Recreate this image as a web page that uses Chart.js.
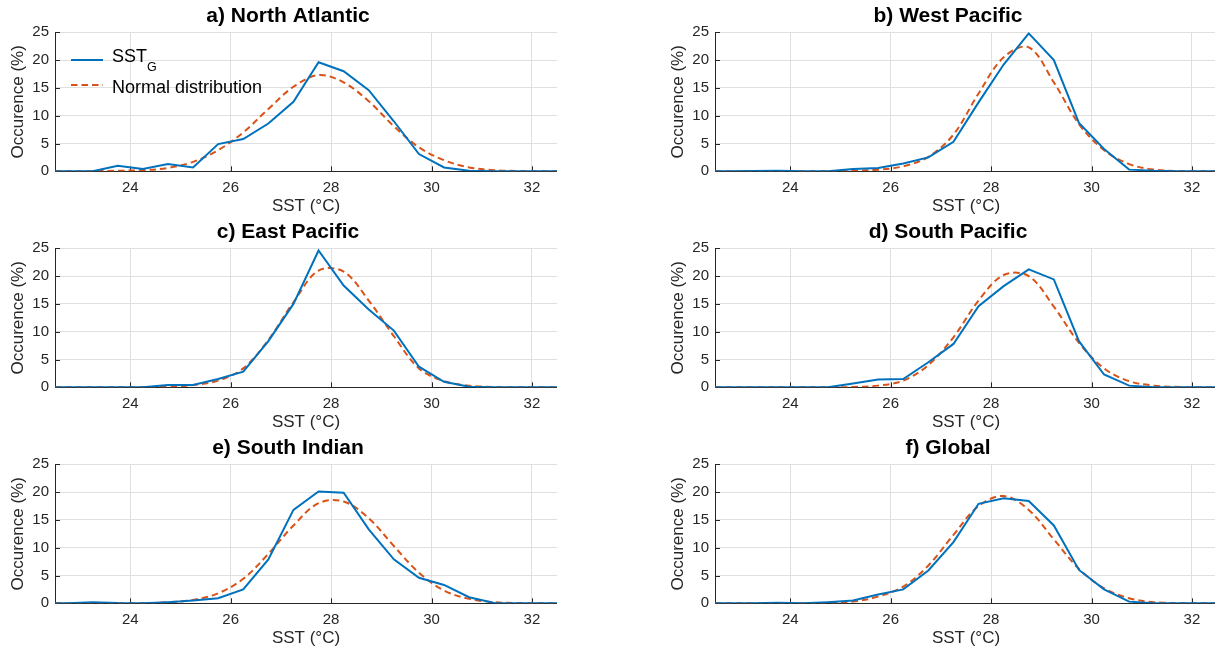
<!DOCTYPE html>
<html>
<head>
<meta charset="utf-8">
<script src="https://cdn.jsdelivr.net/npm/chart.js@4/dist/chart.umd.min.js"></script>
<style>
  body { margin: 0; width: 1215px; height: 651px; overflow: hidden; background: #fff; position: relative;
         font-family: "Liberation Sans", Arial, sans-serif; }
  .panel { position: absolute; width: 557px; height: 216px; }
  .leg { position: absolute; color: #000; font-size: 18px; line-height: 18px; white-space: nowrap; }
  .leg sub { font-size: 12.5px; vertical-align: -9px; line-height: 0; }
  svg.legline { position: absolute; }
</style>
</head>
<body>
<div class="panel" style="left:0;top:0"><canvas id="c0" width="557" height="216"></canvas></div>
<div class="panel" style="left:660px;top:0"><canvas id="c1" width="557" height="216"></canvas></div>
<div class="panel" style="left:0;top:216px"><canvas id="c2" width="557" height="216"></canvas></div>
<div class="panel" style="left:660px;top:216px"><canvas id="c3" width="557" height="216"></canvas></div>
<div class="panel" style="left:0;top:432px"><canvas id="c4" width="557" height="216"></canvas></div>
<div class="panel" style="left:660px;top:432px"><canvas id="c5" width="557" height="216"></canvas></div>

<!-- legend of panel a -->
<svg class="legline" style="left:71px;top:56px" width="34" height="8"><line x1="0" y1="4" x2="32" y2="4" stroke="#0072BD" stroke-width="2"/></svg>
<div class="leg" style="left:112px;top:46.7px">SST<sub>G</sub></div>
<svg class="legline" style="left:71px;top:81px" width="34" height="8"><line x1="0" y1="4" x2="32" y2="4" stroke="#D95319" stroke-width="2" stroke-dasharray="6.5 4"/></svg>
<div class="leg" style="left:112px;top:77.5px">Normal distribution</div>

<script>
// bin centres (deg C), with the axis edges where the curves sit at 0
var sstBins = [22.5, 22.75, 23.25, 23.75, 24.25, 24.75, 25.25, 25.75, 26.25, 26.75, 27.25,
               27.75, 28.25, 28.75, 29.25, 29.75, 30.25, 30.75, 31.25, 31.75, 32.25, 32.5];
var xTicks = [24, 26, 28, 30, 32];
var yTicks = [0, 5, 10, 15, 20, 25];

var titles = ['a) North Atlantic', 'b) West Pacific', 'c) East Pacific',
              'd) South Pacific', 'e) South Indian', 'f) Global'];

// occurrence (%) of SST_G and the fitted normal distribution, per basin
var naSST    = [0, 0, 0, 1.0, 0.4, 1.3, 0.7, 4.9, 5.8, 8.6, 12.5, 19.6, 18.0, 14.6, 9.0, 3.1, 0.7, 0.1, 0, 0, 0, 0];
var naNormal = [0, 0, 0, 0.1, 0.2, 0.6, 1.7, 3.8, 7.0, 11.2, 15.2, 17.3, 16.0, 12.6, 8.1, 4.3, 2.0, 0.7, 0.2, 0.05, 0, 0];

var wpSST    = [0, 0, 0.05, 0.1, 0, 0, 0.4, 0.6, 1.4, 2.5, 5.3, 12.4, 19.2, 24.8, 20.0, 8.7, 4.0, 0.3, 0.1, 0, 0, 0];
var wpNormal = [0, 0, 0, 0, 0, 0, 0.1, 0.3, 0.9, 2.6, 6.6, 14.0, 20.5, 22.3, 16.0, 8.5, 3.8, 1.3, 0.3, 0.05, 0, 0];

var epSST    = [0, 0, 0, 0, 0, 0.4, 0.4, 1.5, 2.8, 8.3, 15.0, 24.6, 18.3, 14.0, 10.2, 3.7, 1.0, 0.1, 0, 0, 0, 0];
var epNormal = [0, 0, 0, 0, 0, 0.1, 0.4, 1.2, 3.4, 8.5, 15.3, 21.0, 20.8, 15.6, 9.2, 3.4, 1.1, 0.3, 0.05, 0, 0, 0];

var spSST    = [0, 0, 0, 0, 0, 0, 0.7, 1.4, 1.5, 4.5, 7.8, 14.6, 18.2, 21.2, 19.4, 8.3, 2.3, 0.3, 0, 0, 0, 0];
var spNormal = [0, 0, 0, 0, 0, 0, 0.05, 0.3, 1.2, 4.0, 9.0, 15.6, 20.2, 20.0, 14.5, 8.0, 3.4, 1.1, 0.3, 0.05, 0, 0];

var siSST    = [0, 0, 0.2, 0.05, 0, 0.2, 0.5, 0.9, 2.5, 7.9, 16.8, 20.1, 19.9, 13.3, 7.9, 4.6, 3.3, 1.1, 0.05, 0, 0, 0];
var siNormal = [0, 0, 0, 0, 0, 0.2, 0.6, 1.8, 4.4, 8.9, 14.0, 18.0, 18.3, 15.3, 10.3, 5.5, 2.3, 0.8, 0.2, 0.05, 0, 0];

var glSST    = [0, 0, 0, 0.1, 0, 0.2, 0.5, 1.6, 2.5, 5.9, 11.0, 17.9, 18.9, 18.4, 14.0, 6.0, 2.5, 0.3, 0, 0, 0, 0];
var glNormal = [0, 0, 0, 0, 0, 0.05, 0.3, 1.2, 3.0, 6.8, 12.3, 17.5, 19.3, 16.8, 11.5, 6.2, 2.7, 0.9, 0.2, 0.05, 0, 0];

var FONT = '"Liberation Sans", Arial, sans-serif';
var TXT = '#262626';
var GRID = '#dfdfdf';

// matlab style ticks pointing into the axes
var inTicks = {
    id: 'inTicks',
    beforeDatasetsDraw: function (chart) {
        var c = chart.ctx, a = chart.chartArea, xs = chart.scales.x, ys = chart.scales.y;
        c.save();
        c.strokeStyle = TXT;
        c.lineWidth = 1;
        c.beginPath();
        xTicks.forEach(function (v) {
            var px = Math.round(xs.getPixelForValue(v)) + 0.5;
            c.moveTo(px, a.bottom);
            c.lineTo(px, a.bottom - 5);
        });
        yTicks.forEach(function (v) {
            var py = Math.round(ys.getPixelForValue(v)) + 0.5;
            c.moveTo(a.left, py);
            c.lineTo(a.left + 5, py);
        });
        c.stroke();
        c.restore();
    }
};

function pts(vals) {
    return sstBins.map(function (x, i) { return {x: x, y: vals[i]}; });
}

function makePanel(id, title, sst, normal) {
    var ctx = document.getElementById(id).getContext('2d');
    return new Chart(ctx, {
        type: 'line',
        data: {
            datasets: [{
                label: 'SST_G',
                data: pts(sst),
                borderColor: '#0072BD',
                borderWidth: 2,
                pointRadius: 0,
                tension: 0
            }, {
                label: 'Normal distribution',
                data: pts(normal),
                borderColor: '#D95319',
                borderWidth: 2,
                borderDash: [6.5, 4],
                pointRadius: 0,
                tension: 0.35
            }]
        },
        plugins: [inTicks],
        options: {
            responsive: false,
            animation: false,
            // left padding shifts the centre of the title like in the figure
            layout: { padding: { left: 19, right: 0, top: 0, bottom: 0 } },
            plugins: {
                legend: { display: false },
                tooltip: { enabled: false },
                title: {
                    display: true,
                    text: title,
                    color: '#000',
                    font: { family: FONT, size: 21, weight: 'bold', lineHeight: 1.2 },
                    padding: { top: 3.4, bottom: 3.7 }
                }
            },
            scales: {
                x: {
                    type: 'linear',
                    min: 22.5,
                    max: 32.5,
                    afterBuildTicks: function (s) { s.ticks = xTicks.map(function (v) { return {value: v}; }); },
                    afterFit: function (s) { s.height = 44.7; },
                    grid: { color: GRID, drawTicks: false },
                    border: { color: TXT, width: 1 },
                    ticks: { color: TXT, font: { family: FONT, size: 15 }, padding: 8, maxRotation: 0 },
                    title: { display: true, text: 'SST (°C)', color: TXT,
                             font: { family: FONT, size: 17, lineHeight: 1 }, padding: { top: 0, bottom: 0.8 } }
                },
                y: {
                    min: 0,
                    max: 25,
                    afterBuildTicks: function (s) { s.ticks = yTicks.map(function (v) { return {value: v}; }); },
                    afterFit: function (s) { s.width = 36; },
                    grid: { color: GRID, drawTicks: false },
                    border: { color: TXT, width: 1 },
                    ticks: { color: TXT, font: { family: FONT, size: 15 }, padding: 6 },
                    title: { display: true, text: 'Occurence (%)', color: TXT,
                             font: { family: FONT, size: 17, lineHeight: 1 }, padding: { top: -9.5, bottom: 0 } }
                }
            }
        }
    });
}

makePanel('c0', titles[0], naSST, naNormal);
makePanel('c1', titles[1], wpSST, wpNormal);
makePanel('c2', titles[2], epSST, epNormal);
makePanel('c3', titles[3], spSST, spNormal);
makePanel('c4', titles[4], siSST, siNormal);
makePanel('c5', titles[5], glSST, glNormal);
</script>
</body>
</html>
